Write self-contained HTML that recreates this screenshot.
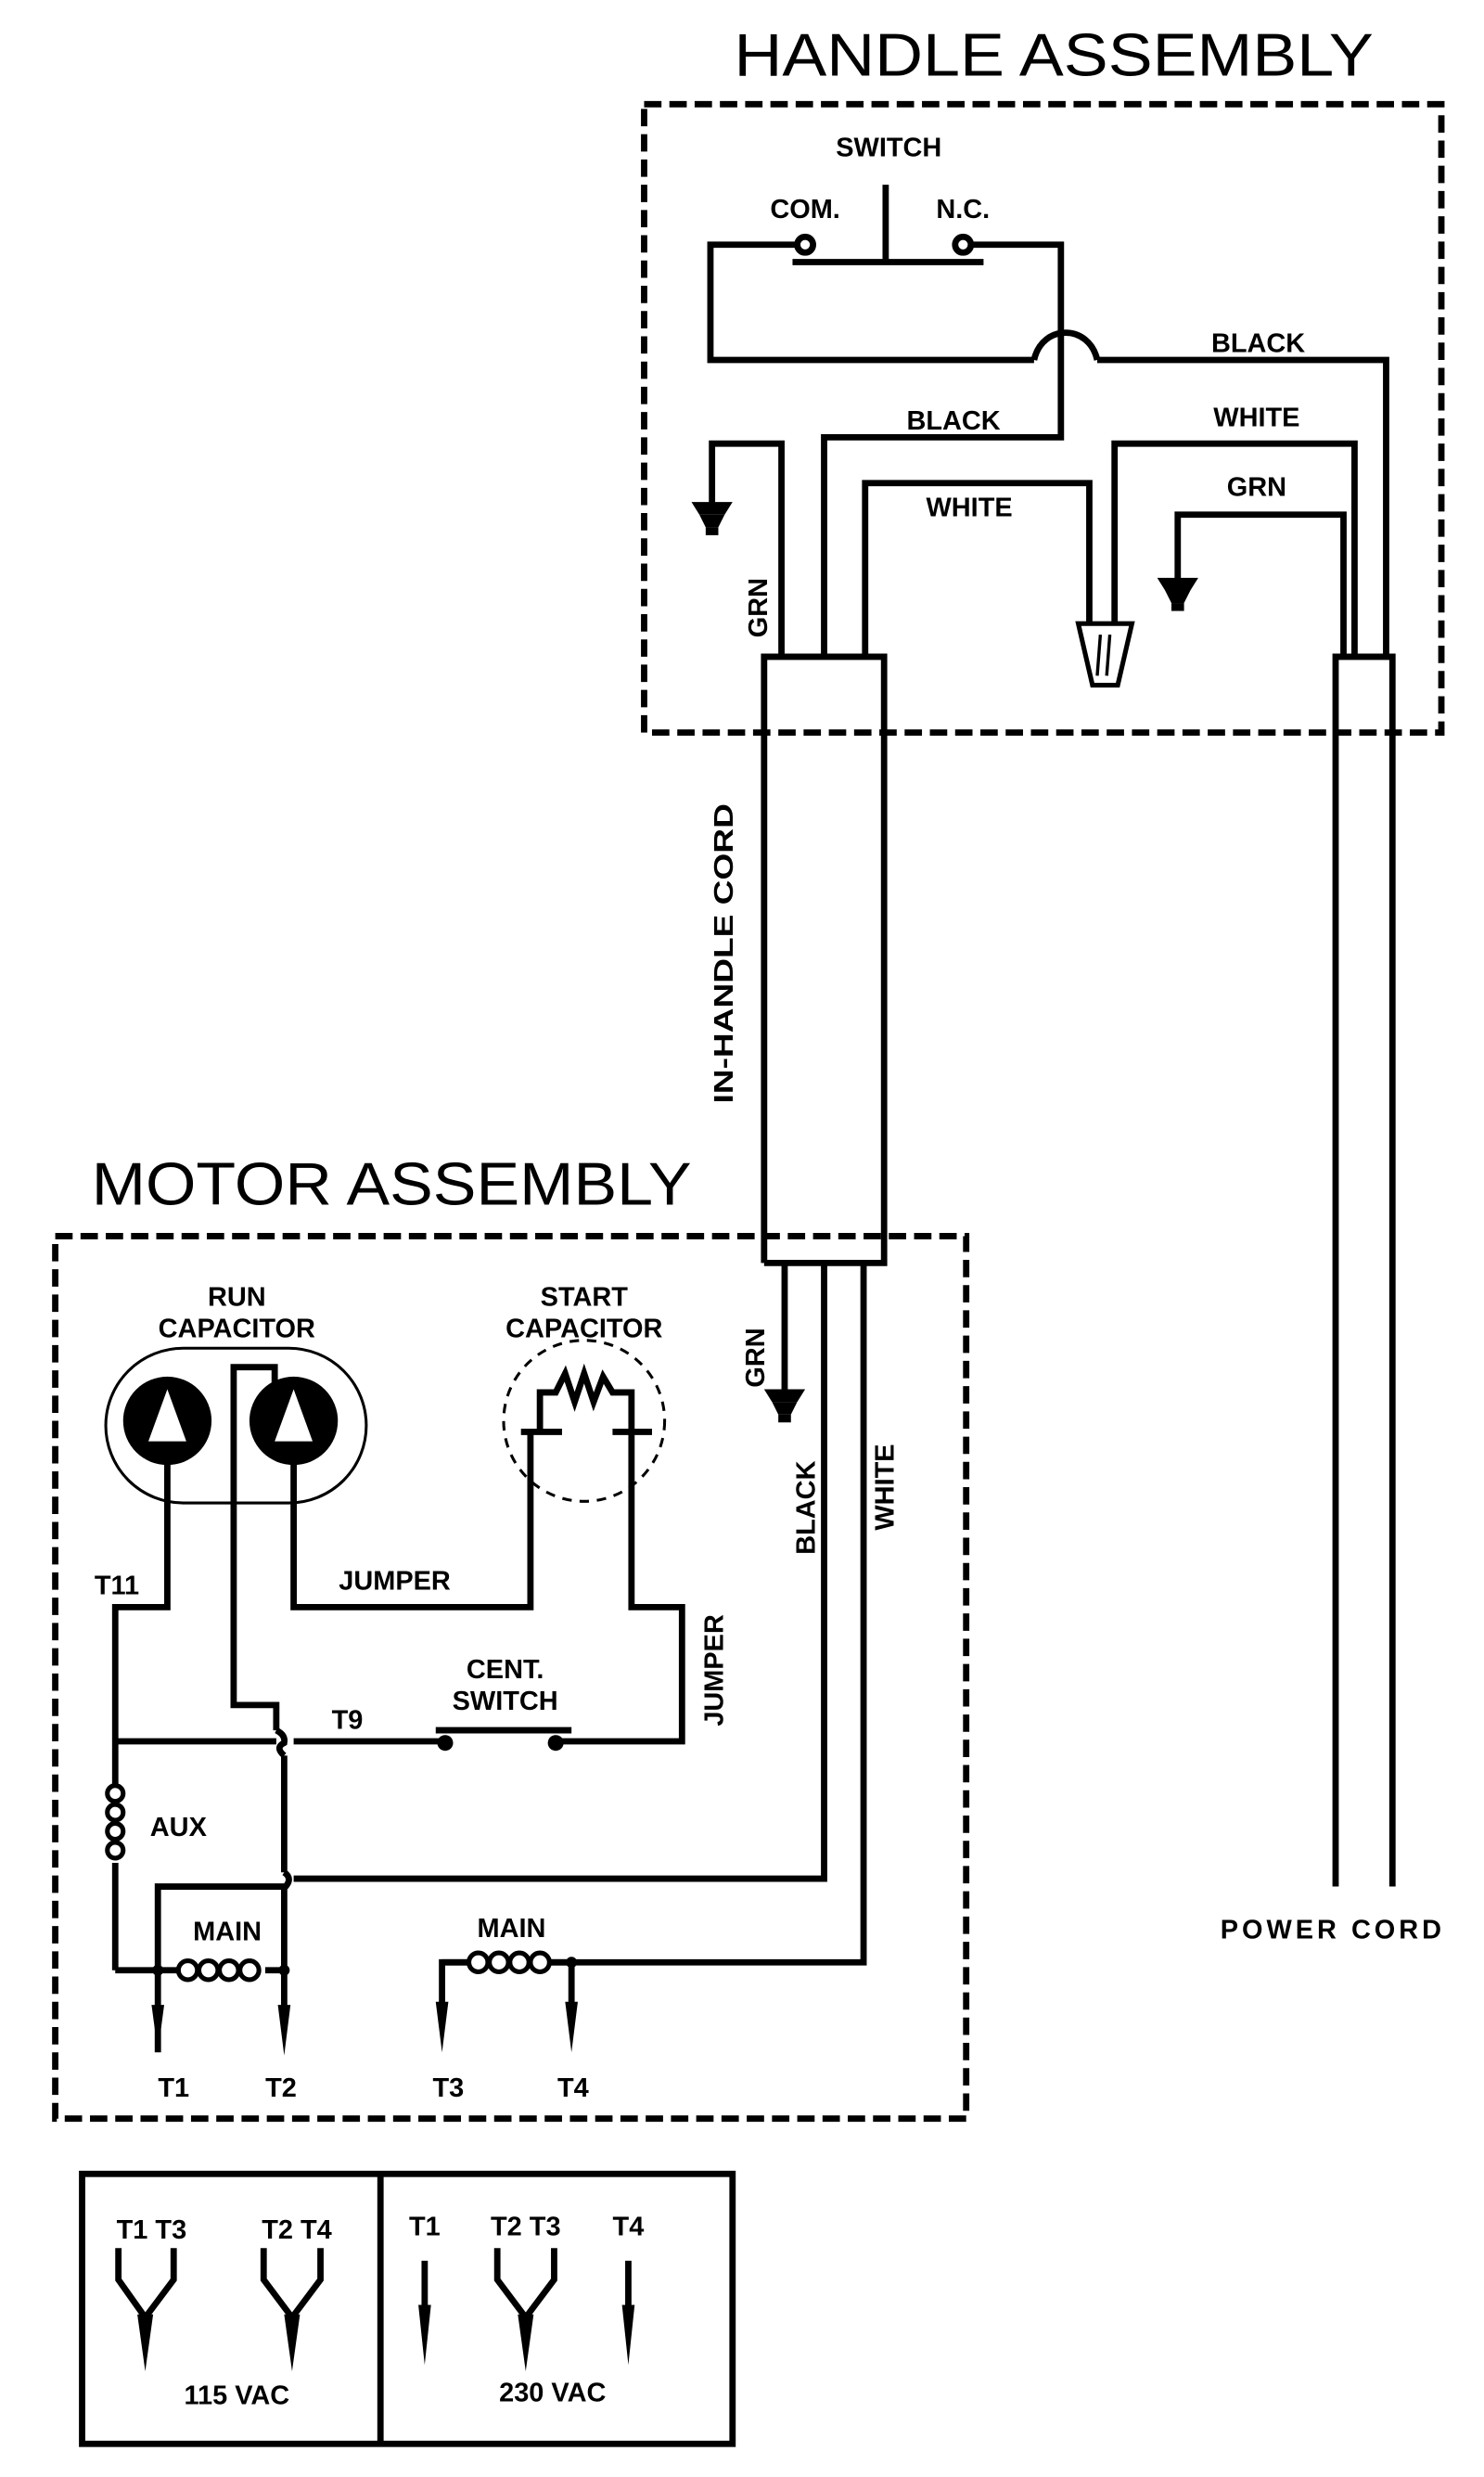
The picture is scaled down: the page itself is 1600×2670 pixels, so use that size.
<!DOCTYPE html>
<html><head><meta charset="utf-8"><style>
html,body{margin:0;padding:0;background:#fff;}
svg{display:block;}
text{font-family:"Liberation Sans",sans-serif;fill:#000;}
.l{font-weight:bold;font-size:17px;text-anchor:middle;}
.t{font-size:38px;}
</style></head><body>
<svg width="1600" height="2670" viewBox="0 0 940 1569" preserveAspectRatio="none" xmlns="http://www.w3.org/2000/svg">
<g fill="none" stroke="#000" stroke-width="4" stroke-linejoin="miter">
<rect x="408" y="66" width="505" height="398" stroke-dasharray="11,5"/>
<rect x="35" y="783" width="577" height="559" stroke-dasharray="11,5"/>
<line x1="561" y1="117" x2="561" y2="165"/>
<line x1="502" y1="166" x2="623" y2="166"/>
<circle cx="510" cy="155" r="5" fill="#fff"/>
<circle cx="610" cy="155" r="5" fill="#fff"/>
<polyline points="505,155 450,155 450,228 655,228"/>
<path d="M655,228 C660,205 690,205 695,228"/>
<polyline points="695,228 878,228 878,415"/>
<polyline points="615,155 672,155 672,277 522,277 522,415"/>
<polyline points="451,320 451,281 495,281 495,415"/>
<polyline points="548,415 548,306 690,306 690,395"/>
<polyline points="706,395 706,281 858,281 858,415"/>
<polyline points="746,368 746,326 851,326 851,415"/>
<polygon points="683,395 717,395 708,434 692,434" stroke-width="3"/>
<line x1="697" y1="402" x2="695" y2="428" stroke-width="2"/>
<line x1="703" y1="402" x2="701" y2="428" stroke-width="2"/>
<polyline points="484,800 484,416 560,416 560,800 484,800"/>
<polyline points="846,1195 846,416 882,416 882,1195"/>
<polyline points="497,800 497,882"/>
<polyline points="522,800 522,1190 186,1190"/>
<polyline points="547,800 547,1243 280,1243 280,1270"/>
<line x1="362" y1="1243" x2="362" y2="1270"/>
<rect x="67" y="854" width="165" height="98" rx="49" stroke-width="1.8"/>
<polyline points="106,925 106,1018 73,1018 73,1130"/>
<polyline points="186,925 186,1018 336,1018 336,906"/>
<polyline points="174,880 174,866 148,866 148,1080 175,1080 175,1096"/>
<path d="M175,1096 q6,3 5,8 q-6,3 0,8"/>
<line x1="73" y1="1103" x2="175" y2="1103"/>
<line x1="186" y1="1103" x2="282" y2="1103"/>
<line x1="180" y1="1112" x2="180" y2="1186"/>
<path d="M180,1186 q6,4 0,10"/>
<line x1="180" y1="1196" x2="180" y2="1248"/>
<circle cx="370" cy="900" r="51" stroke-width="1.8" stroke-dasharray="6,5"/>
<polyline points="342,906 342,882 352,882 358,870 364,888 370,870 376,888 382,872 388,882 400,882 400,906"/>
<line x1="330" y1="907" x2="356" y2="907"/>
<line x1="388" y1="907" x2="413" y2="907"/>
<polyline points="400,906 400,1018 432,1018 432,1103 354,1103"/>
<line x1="276" y1="1096" x2="362" y2="1096"/>
<line x1="73" y1="1180" x2="73" y2="1248"/>
<polyline points="73,1248 112,1248"/>
<line x1="168" y1="1248" x2="180" y2="1248"/>
<polyline points="100,1300 100,1195 180,1195"/>
<line x1="180" y1="1248" x2="180" y2="1275"/>
<line x1="280" y1="1243" x2="298" y2="1243"/>
<line x1="345" y1="1243" x2="362" y2="1243"/>
<rect x="52" y="1377" width="412" height="171"/>
<line x1="241" y1="1377" x2="241" y2="1548"/>
<polyline points="75,1424 75,1444 92,1468 110,1444 110,1424"/>
<polyline points="167,1424 167,1444 185,1468 203,1444 203,1424"/>
<line x1="269" y1="1432" x2="269" y2="1465"/>
<polyline points="315,1424 315,1444 333,1468 351,1444 351,1424"/>
<line x1="398" y1="1432" x2="398" y2="1465"/>
</g>
<g fill="#000">
<circle cx="106" cy="900" r="28"/><circle cx="186" cy="900" r="28"/>
<polygon points="106,880 94,913 118,913" fill="#fff"/>
<polygon points="186,880 174,913 198,913" fill="#fff"/>
<circle cx="282" cy="1104" r="5"/><circle cx="352" cy="1104" r="5"/>
<circle cx="100" cy="1248" r="3.5"/><circle cx="180" cy="1248" r="3.5"/><circle cx="362" cy="1243" r="3.5"/>
<polygon points="438,318 464,318 459,326 443,326"/><polygon points="443,326 459,326 455,334 447,334"/><rect x="447" y="334" width="8" height="5"/>
<polygon points="733,366 759,366 754,374 738,374"/><polygon points="738,374 754,374 750,382 742,382"/><rect x="742" y="382" width="8" height="5"/>
<polygon points="484,880 510,880 505,888 489,888"/><polygon points="489,888 505,888 501,896 493,896"/><rect x="493" y="896" width="8" height="5"/>
<g fill="#fff" stroke="#000" stroke-width="3">
<circle cx="73" cy="1136" r="5"/><circle cx="73" cy="1148" r="5"/><circle cx="73" cy="1160" r="5"/><circle cx="73" cy="1172" r="5"/>
<circle cx="119" cy="1248" r="6"/><circle cx="132" cy="1248" r="6"/><circle cx="145" cy="1248" r="6"/><circle cx="158" cy="1248" r="6"/>
<circle cx="303" cy="1243" r="6"/><circle cx="316" cy="1243" r="6"/><circle cx="329" cy="1243" r="6"/><circle cx="342" cy="1243" r="6"/>
</g>
<polygon points="96,1270 104,1270 100,1300"/>
<polygon points="176,1270 184,1270 180,1302"/>
<polygon points="276,1268 284,1268 280,1300"/>
<polygon points="358,1268 366,1268 362,1300"/>
<polygon points="87,1466 97,1466 92,1502"/>
<polygon points="180,1466 190,1466 185,1502"/>
<polygon points="328,1466 338,1466 333,1502"/>
<polygon points="265,1460 273,1460 269,1498"/>
<polygon points="394,1460 402,1460 398,1498"/>
</g>
<text class="t" x="465" y="48" textLength="405" lengthAdjust="spacingAndGlyphs">HANDLE ASSEMBLY</text>
<text class="t" x="58" y="763" textLength="380" lengthAdjust="spacingAndGlyphs">MOTOR ASSEMBLY</text>
<text class="l" x="563" y="99">SWITCH</text>
<text class="l" x="510" y="138">COM.</text>
<text class="l" x="610" y="138">N.C.</text>
<text class="l" x="797" y="223">BLACK</text>
<text class="l" x="604" y="272">BLACK</text>
<text class="l" x="796" y="270">WHITE</text>
<text class="l" x="614" y="327">WHITE</text>
<text class="l" x="796" y="314">GRN</text>
<text class="l" transform="translate(486,385) rotate(-90)">GRN</text>
<text class="l" transform="translate(464,604) rotate(-90)" textLength="190" lengthAdjust="spacingAndGlyphs">IN-HANDLE CORD</text>
<text class="l" x="843" y="1228" textLength="140" lengthAdjust="spacing">POWER CORD</text>
<text class="l" x="150" y="827">RUN</text>
<text class="l" x="150" y="847">CAPACITOR</text>
<text class="l" x="370" y="827">START</text>
<text class="l" x="370" y="847">CAPACITOR</text>
<text class="l" transform="translate(484,860) rotate(-90)">GRN</text>
<text class="l" transform="translate(516,955) rotate(-90)">BLACK</text>
<text class="l" transform="translate(566,942) rotate(-90)">WHITE</text>
<text class="l" x="74" y="1010">T11</text>
<text class="l" x="250" y="1007">JUMPER</text>
<text class="l" transform="translate(458,1058) rotate(-90)">JUMPER</text>
<text class="l" x="320" y="1063">CENT.</text>
<text class="l" x="320" y="1083">SWITCH</text>
<text class="l" x="220" y="1095">T9</text>
<text class="l" x="113" y="1163">AUX</text>
<text class="l" x="144" y="1229">MAIN</text>
<text class="l" x="324" y="1227">MAIN</text>
<text class="l" x="110" y="1328">T1</text>
<text class="l" x="178" y="1328">T2</text>
<text class="l" x="284" y="1328">T3</text>
<text class="l" x="363" y="1328">T4</text>
<text class="l" x="96" y="1418">T1 T3</text>
<text class="l" x="188" y="1418">T2 T4</text>
<text class="l" x="150" y="1523">115 VAC</text>
<text class="l" x="269" y="1416">T1</text>
<text class="l" x="333" y="1416">T2 T3</text>
<text class="l" x="398" y="1416">T4</text>
<text class="l" x="350" y="1521">230 VAC</text>
</svg>
</body></html>
